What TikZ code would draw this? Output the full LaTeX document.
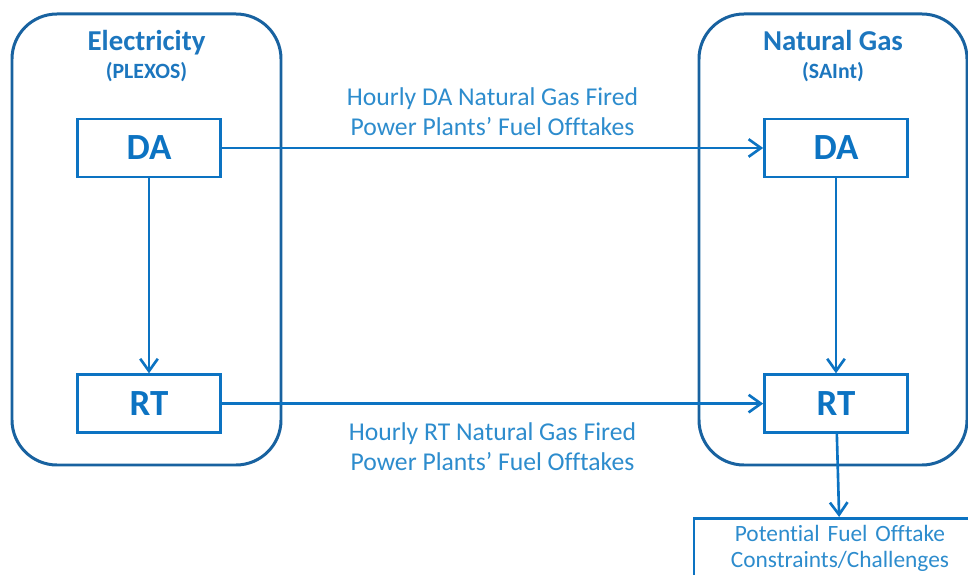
\documentclass[tikz,border=0pt]{standalone}
\usepackage{fontspec}
\setmainfont{Carlito}[Ligatures=NoCommon]
\usepackage{tikz}
\usetikzlibrary{arrows.meta}
\usetikzlibrary{positioning}
\definecolor{panelblue}{RGB}{24,98,160}
\definecolor{boxblue}{RGB}{12,115,194}
\definecolor{titleblue}{RGB}{28,118,190}
\definecolor{labelblue}{RGB}{45,140,205}

\begin{document}
\begin{tikzpicture}[>={Straight Barb[length=7pt,width=10pt]},
		panel/.style={draw=panelblue, line width=1.7pt, rounded corners=0.9cm, minimum width=5.38cm, minimum height=9.02cm},
		stage node/.style={draw=boxblue, line width=1.5pt, minimum width=2.86cm, minimum height=1.16cm, text=boxblue, font=\fontsize{21}{24}\selectfont\bfseries},
		title node/.style={inner sep=0pt, anchor=base, text=titleblue, font=\fontsize{16.4}{19}\selectfont\bfseries},
		sub node/.style={inner sep=0pt, anchor=base, text=titleblue, font=\fontsize{12.4}{14}\selectfont\bfseries},
		flow/.style={->, draw=boxblue, line width=1.5pt},
		flow label/.style={align=center, text=labelblue, font=\fontsize{14.6}{17}\selectfont}]
	\useasboundingbox (0,0) rectangle (19.36,-11.5);
	\clip (0,0) rectangle (19.36,-11.5);
	
	% Panels
	\node[panel] (elec) at (2.93,-4.79) {};
	\node[panel, minimum width=5.36cm] (gas) at (16.66,-4.79) {};
	
	\node[title node] (electitle) at ([yshift=-0.76cm]elec.north) {Electricity};
	\node[sub node, below=0.57cm of electitle.base, anchor=base] (elecsub) {(PLEXOS)};
	\node[title node] (gastitle) at ([yshift=-0.76cm]gas.north) {Natural Gas};
	\node[sub node, below=0.57cm of gastitle.base, anchor=base] (gassub) {(SAInt)};
	
	% Stages
	\node[stage node] (da1) at (2.98,-2.96) {DA};
	\node[stage node, below=3.9cm of da1] (rt1) {RT};
	\node[stage node] (da2) at (16.72,-2.96) {DA};
	\node[stage node, below=3.9cm of da2] (rt2) {RT};
	
	\node[draw=boxblue, line width=1.5pt, anchor=north, below=1.66cm of rt2, xshift=0.08cm,
		text width=5.6cm, align=center, inner ysep=3.8pt, text=labelblue,
		font=\fontsize{13.3}{14.7}\selectfont] (limits) {Potential Fuel Offtake\\Constraints/Challenges};
	
	\path[flow]
	(da1)
	edge node[flow label, above=3pt] {Hourly DA Natural Gas Fired\\Power Plants’ Fuel Offtakes} (da2)
	edge (rt1)
	
	(rt1)
	edge node[flow label, below=7pt] {Hourly RT Natural Gas Fired\\Power Plants’ Fuel Offtakes} (rt2)
	
	(da2) edge (rt2)
	(rt2) edge (limits);
	
\end{tikzpicture}
\end{document}
